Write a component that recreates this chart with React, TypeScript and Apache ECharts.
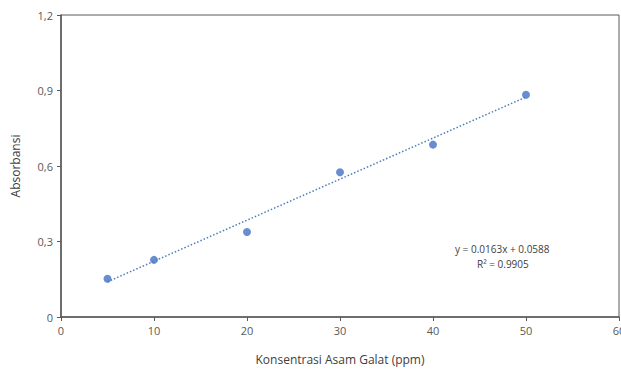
import React, { useEffect, useRef } from "react";
import * as echarts from "echarts";

const concentrations = [5, 10, 20, 30, 40, 50];
const absorbances = [0.152, 0.227, 0.338, 0.575, 0.685, 0.883];
const trendX = [5, 50];
const trendY = [0.14, 0.874];
const equationLines = ["y = 0.0163x + 0.0588", "R² = 0.9905"];

export default function App() {
  const ref = useRef<HTMLDivElement>(null);
  useEffect(() => {
    if (!ref.current) return;
    const chart = echarts.init(ref.current, undefined, { renderer: "svg" });
    const font = "Open Sans";
    chart.setOption({
      animation: false,
      backgroundColor: "#ffffff",
      grid: {
        left: 61,
        right: 2,
        top: 15,
        bottom: 54,
        outerBoundsMode: "none",
        containLabel: false,
        show: true,
        borderColor: "#595959",
        borderWidth: 1,
      },
      xAxis: {
        type: "value",
        min: 0,
        max: 60,
        interval: 10,
        name: "Konsentrasi Asam Galat (ppm)",
        nameLocation: "middle",
        nameGap: 36,
        nameTextStyle: { fontFamily: font, fontSize: 12, color: "#404040" },
        axisLine: { show: true, lineStyle: { color: "#595959", width: 1.5 } },
        axisTick: { show: true, length: 4, lineStyle: { color: "#595959" } },
        axisLabel: { fontFamily: font, fontSize: 11, color: "#595959", margin: 8 },
        splitLine: { show: false },
      },
      yAxis: {
        type: "value",
        min: 0,
        max: 1.2,
        interval: 0.3,
        name: "Absorbansi",
        nameLocation: "middle",
        nameGap: 40,
        nameTextStyle: { fontFamily: font, fontSize: 12, color: "#404040" },
        axisLine: { show: true, lineStyle: { color: "#595959", width: 1.5 } },
        axisTick: { show: true, length: 4, lineStyle: { color: "#595959" } },
        axisLabel: {
          fontFamily: font,
          fontSize: 11,
          color: "#595959",
          margin: 8,
          formatter: (v: number) => (Math.round(v * 10) / 10).toString().replace(".", ","),
        },
        splitLine: { show: false },
      },
      series: [
        {
          type: "line",
          data: trendX.map((x, i) => [x, trendY[i]]),
          showSymbol: false,
          symbol: "none",
          lineStyle: { color: "#4a7ebb", width: 1.5, type: [1.5, 2] },
          z: 1,
        },
        {
          type: "scatter",
          data: concentrations.map((x, i) => [x, absorbances[i]]),
          symbolSize: 8,
          itemStyle: { color: "#4472c4" },
          z: 2,
        },
      ],
      graphic: [
        {
          type: "text",
          left: 455,
          top: 244,
          style: { text: equationLines[0], fontFamily: font, fontSize: 10, fill: "#404040" },
        },
        {
          type: "text",
          left: 477,
          top: 259,
          style: { text: equationLines[1], fontFamily: font, fontSize: 10, fill: "#404040" },
        },
      ],
    });
    return () => chart.dispose();
  }, []);
  return <div ref={ref} style={{ width: 621, height: 371, position: "absolute", left: 0, top: 0 }} />;
}
